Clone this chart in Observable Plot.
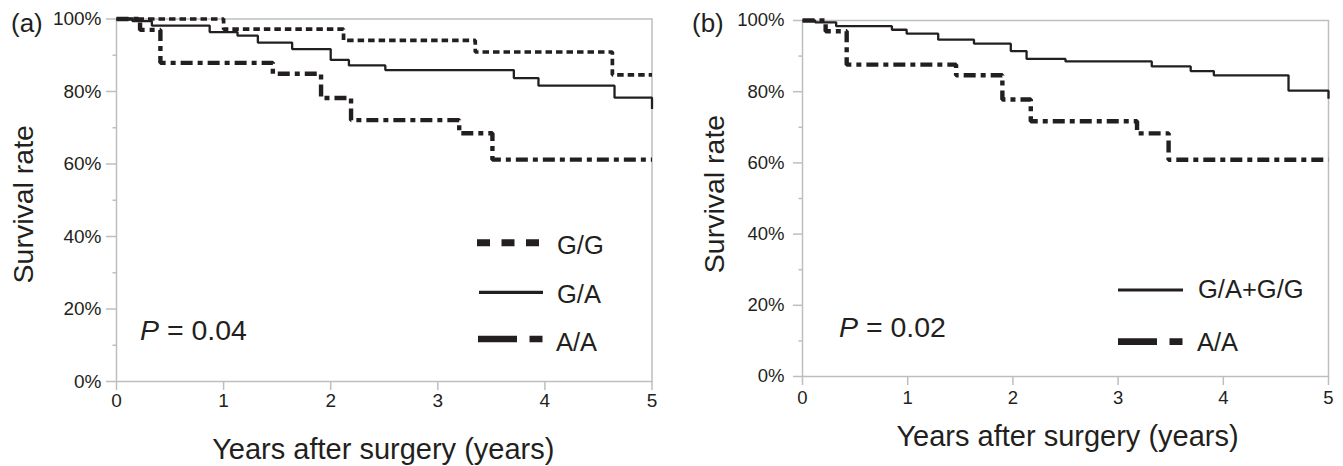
<!DOCTYPE html>
<html>
<head>
<meta charset="utf-8">
<script src="https://cdn.jsdelivr.net/npm/d3@7"></script>
<script src="https://cdn.jsdelivr.net/npm/@observablehq/plot@0.6"></script>
<style>
  html, body { margin: 0; padding: 0; background: #fff; }
  #wrap { position: relative; width: 1343px; height: 466px; overflow: hidden; background: #fff; }
  #wrap > .panel { position: absolute; top: 0; }
  #overlay { position: absolute; left: 0; top: 0; pointer-events: none; }
  #pa svg g[aria-label$="tick label"] { font-size: 19px; }
  #pb svg g[aria-label$="tick label"] { font-size: 18.5px; }
</style>
</head>
<body>
<div id="wrap">
  <div class="panel" id="pa" style="left:0px"></div>
  <div class="panel" id="pb" style="left:671px"></div>
</div>
<script>
// ---------- data ----------
const xTicks = [0, 1, 2, 3, 4, 5];
const yMajor = [0, 20, 40, 60, 80, 100];
const yMinor = [10, 30, 50, 70, 90];

// Panel (a)
const aGGTime = [0, 1.00, 2.12, 3.35, 4.63, 5];
const aGGSurv = [100, 97.2, 94.1, 90.9, 84.6, 84.6];
const aGATime = [0, 0.15, 0.33, 0.87, 1.13, 1.32, 1.64, 2.00, 2.17, 2.51, 3.71, 3.94, 4.65, 5];
const aGASurv = [100, 99.4, 98.2, 96.4, 95.4, 93.5, 91.7, 88.7, 87.2, 85.9, 83.7, 81.6, 78.3, 75.2];
const aAATime = [0, 0.22, 0.41, 1.46, 1.91, 2.19, 3.20, 3.51, 5];
const aAASurv = [100, 97.0, 87.9, 84.9, 78.2, 72.1, 68.5, 61.2, 61.2];

// Panel (b)
const bGAGGTime = [0, 0.12, 0.32, 0.85, 0.99, 1.29, 1.63, 1.98, 2.13, 2.50, 3.32, 3.69, 3.91, 4.62, 5];
const bGAGGSurv = [100, 99.5, 98.4, 97.4, 96.3, 94.6, 93.5, 91.4, 89.2, 88.5, 87.1, 85.8, 84.6, 80.3, 78.0];
const bAATime = [0, 0.22, 0.42, 1.46, 1.90, 2.17, 3.18, 3.48, 5];
const bAASurv = [100, 97.0, 87.6, 84.6, 77.8, 71.7, 68.3, 60.9, 60.9];

const panelLabels = ["(a)", "(b)"];
const pValues = ["0.04", "0.02"];
const xTitle = "Years after surgery (years)";
const yTitle = "Survival rate";
const legendA = ["G/G", "G/A", "A/A"];
const legendB = ["G/A+G/G", "A/A"];

// ---------- styling ----------
const FONT = '"Liberation Sans", Arial, Helvetica, sans-serif';
const INK = "#231f20";
const AXIS = "#bcbec0";
const STYLES = {
  "G/G":     {strokeWidth: 3.7, strokeDasharray: "6.5,4"},
  "G/A":     {strokeWidth: 2.3, strokeDasharray: null},
  "G/A+G/G": {strokeWidth: 2.3, strokeDasharray: null},
  "A/A":     {strokeWidth: 4.4, strokeDasharray: "12,5,5,5"}
};

const rows = (t, s) => t.map((d, i) => ({t: d, s: s[i]}));

function stepLine(data, key) {
  const st = STYLES[key];
  const o = {x: "t", y: "s", curve: "step-after", stroke: INK,
    strokeWidth: st.strokeWidth, strokeLinecap: "butt", strokeLinejoin: "miter"};
  if (st.strokeDasharray) o.strokeDasharray = st.strokeDasharray;
  return Plot.line(data, o);
}

const HAS_AXIS_MARKS = typeof Plot.axisY === "function";

function panel(cfg) {
  const axisMarks = HAS_AXIS_MARKS ? [
    Plot.axisY({ticks: yMinor, tickSize: 3.5, tickFormat: () => "", label: null, stroke: AXIS, strokeWidth: 1.5}),
    Plot.axisY({ticks: yMajor, tickSize: cfg.yTick, tickPadding: cfg.yPad, label: null,
      tickFormat: d => d + "%", stroke: AXIS, strokeWidth: 1.5, fontSize: cfg.tickFont}),
    Plot.axisX({ticks: xTicks, tickSize: 9, tickPadding: cfg.xPad, label: null,
      tickFormat: d => String(d), stroke: AXIS, strokeWidth: 1.5, fontSize: cfg.tickFont})
  ] : [];
  const svg = Plot.plot({
    width: cfg.width, height: 466,
    marginLeft: cfg.ml, marginRight: cfg.mr, marginTop: cfg.mt, marginBottom: cfg.mb,
    x: HAS_AXIS_MARKS ? {domain: [0, 5]} :
      {domain: [0, 5], ticks: xTicks, tickSize: 9, tickPadding: cfg.xPad, tickFormat: d => String(d), label: null},
    y: HAS_AXIS_MARKS ? {domain: [0, 100]} :
      {domain: [0, 100], ticks: yMajor, tickSize: cfg.yTick, tickPadding: cfg.yPad, tickFormat: d => d + "%", label: null},
    style: {fontFamily: FONT, fontSize: cfg.tickFont + "px", color: INK, background: "#fff"},
    marks: [
      Plot.frame({stroke: AXIS, strokeWidth: 1.5}),
      ...axisMarks,
      ...cfg.lines,
      Plot.text([xTitle], {frameAnchor: "bottom", lineAnchor: "bottom", textAnchor: "middle",
        dx: cfg.xtDx, dy: cfg.xtDy, fontSize: 29, fill: INK}),
      Plot.text([yTitle], {frameAnchor: "left", lineAnchor: "bottom", textAnchor: "middle",
        rotate: -90, dx: cfg.ytDx, dy: cfg.ytDy, fontSize: 28.5, fill: INK})
    ]
  });
  return svg;
}

const svgA = panel({
  width: 671, ml: 116, mr: 19.5, mt: 18.5, mb: 85, yTick: 10, yPad: 5, xPad: 3, tickFont: 19,
  xtDx: -1, xtDy: 77, ytDx: -84, ytDy: 4,
  lines: [
    stepLine(rows(aGATime, aGASurv), "G/A"),
    stepLine(rows(aGGTime, aGGSurv), "G/G"),
    stepLine(rows(aAATime, aAASurv), "A/A")
  ]
});
document.getElementById("pa").appendChild(svgA);

const svgB = panel({
  width: 672, ml: 131, mr: 15, mt: 20, mb: 90, yTick: 9, yPad: 9, xPad: 5, tickFont: 18.5,
  xtDx: 2, xtDy: 69, ytDx: -79, ytDy: -4.5,
  lines: [
    stepLine(rows(bGAGGTime, bGAGGSurv), "G/A+G/G"),
    stepLine(rows(bAATime, bAASurv), "A/A")
  ]
});
document.getElementById("pb").appendChild(svgB);

// ---------- annotations: panel letters, P values, legends ----------
const NS = "http://www.w3.org/2000/svg";
const ov = document.createElementNS(NS, "svg");
ov.setAttribute("id", "overlay");
ov.setAttribute("width", 1343);
ov.setAttribute("height", 466);
ov.setAttribute("font-family", FONT);
document.getElementById("wrap").appendChild(ov);

function txt(x, y, size, parts) {
  const t = document.createElementNS(NS, "text");
  t.setAttribute("x", x); t.setAttribute("y", y);
  t.setAttribute("font-size", size); t.setAttribute("fill", INK);
  for (const [s, italic] of parts) {
    const sp = document.createElementNS(NS, "tspan");
    if (italic) sp.setAttribute("font-style", "italic");
    sp.textContent = s;
    t.appendChild(sp);
  }
  ov.appendChild(t);
}
function sample(x1, x2, y, w, dash) {
  const l = document.createElementNS(NS, "line");
  l.setAttribute("x1", x1); l.setAttribute("x2", x2);
  l.setAttribute("y1", y); l.setAttribute("y2", y);
  l.setAttribute("stroke", INK); l.setAttribute("stroke-width", w);
  if (dash) l.setAttribute("stroke-dasharray", dash);
  ov.appendChild(l);
}

// panel letters
txt(11, 31.5, 26, [[panelLabels[0], false]]);
txt(692, 31.5, 26, [[panelLabels[1], false]]);

// P values
txt(140, 340, 28.5, [["P", true], [" = " + pValues[0], false]]);
txt(839, 336.5, 28.5, [["P", true], [" = " + pValues[1], false]]);

// legend (a)
const LEG_DASH = {"G/G": [7, "13,11.5"], "G/A": [3.2, null], "G/A+G/G": [3.2, null], "A/A": [6.7, "39,12.5,13,20"]};
sample(477, 543, 242.7, LEG_DASH["G/G"][0], LEG_DASH["G/G"][1]);
txt(557, 254, 25.5, [[legendA[0], false]]);
sample(479, 543, 292.3, LEG_DASH["G/A"][0], LEG_DASH["G/A"][1]);
txt(557, 303, 25.5, [[legendA[1], false]]);
sample(478, 543, 339, LEG_DASH["A/A"][0], LEG_DASH["A/A"][1]);
txt(556, 351, 25.5, [[legendA[2], false]]);

// legend (b)
sample(1118, 1183, 290, LEG_DASH["G/A+G/G"][0], LEG_DASH["G/A+G/G"][1]);
txt(1198, 298, 25.5, [[legendB[0], false]]);
sample(1118, 1183, 341.7, LEG_DASH["A/A"][0], LEG_DASH["A/A"][1]);
txt(1197, 350.7, 25.5, [[legendB[1], false]]);
</script>
</body>
</html>
